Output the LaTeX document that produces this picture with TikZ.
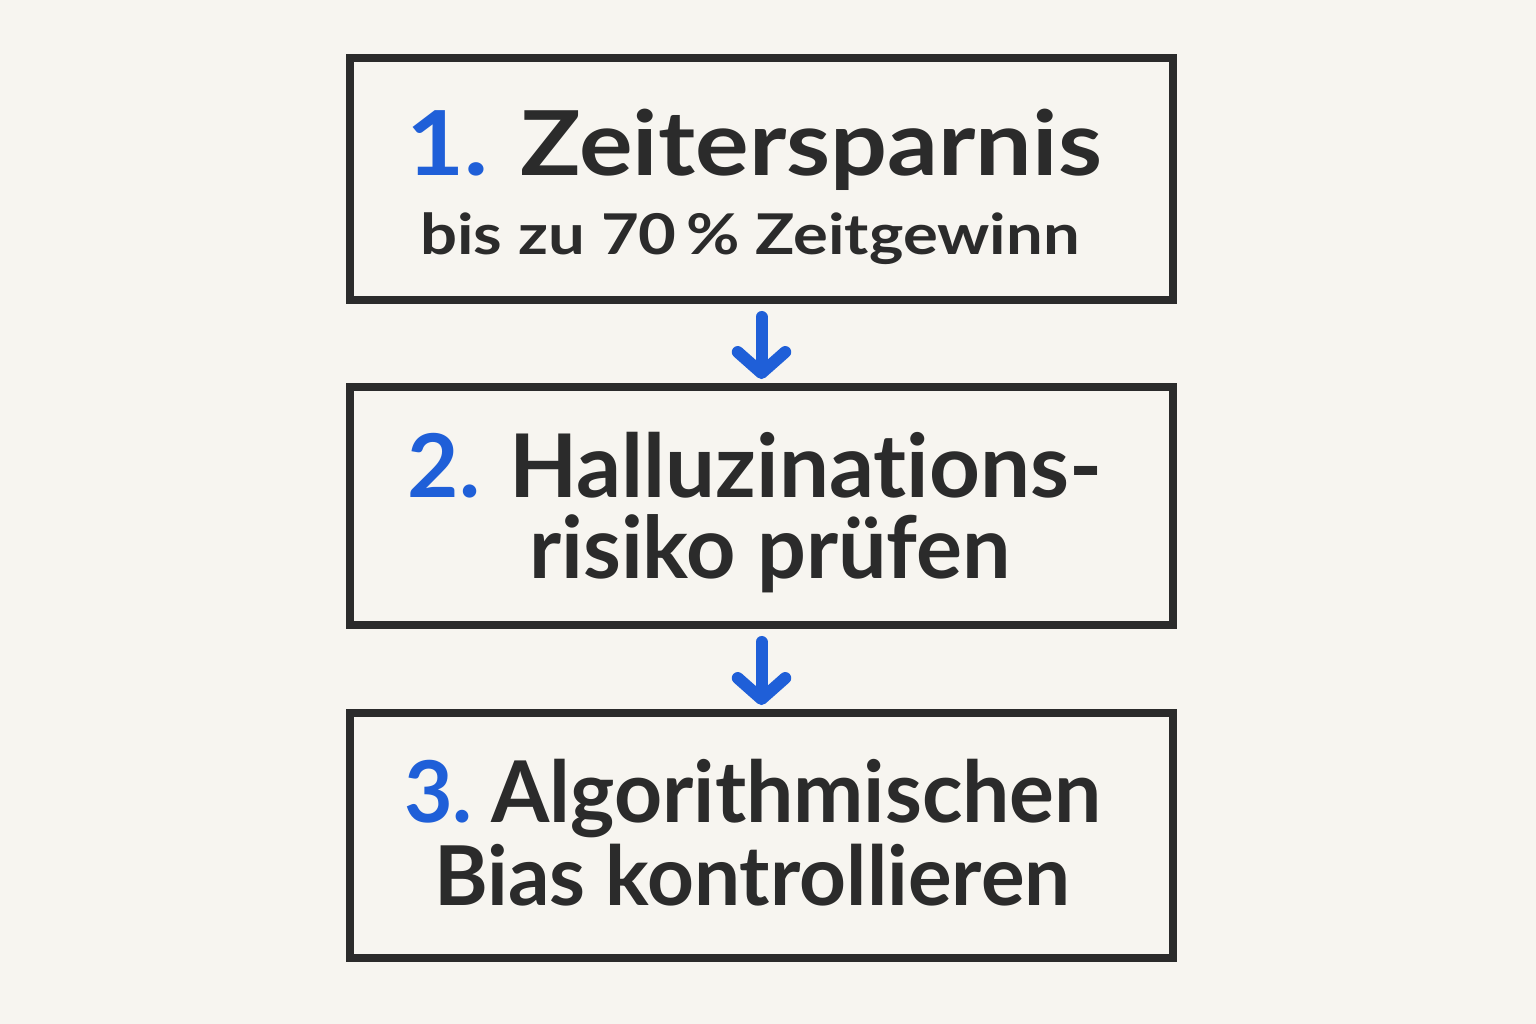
\documentclass[tikz,border=0pt]{standalone}
\usepackage{fontspec}
\setmainfont{Lato}[Ligatures=NoCommon]
\usetikzlibrary{arrows.meta}
\definecolor{paper}{HTML}{F7F5F0}
\definecolor{ink}{HTML}{2B2B2B}
\definecolor{stepblue}{HTML}{1F5FD8}
\tikzset{
  stepbox/.style={draw=ink, line width=0.16cm, rectangle, minimum width=16.46cm, inner sep=0pt},
  steptext/.style 2 args={anchor=base, text=ink, inner sep=0pt,
    font={\bfseries\fontsize{#1}{#1}\selectfont\addfontfeature{FakeStretch=#2}}},
  flow/.style={draw=stepblue, line width=0.24cm, line cap=round,
    -{Straight Barb[length=0.42cm,width=0.95cm,line cap=round,line join=round]},
    shorten <=0.26cm, shorten >=0.08cm}
}
\newcommand{\stepnum}[1]{\textcolor{stepblue}{#1}}
\begin{document}
\begin{tikzpicture}[x=0.02cm,y=-0.02cm]
		\fill[paper] (0,0) rectangle (1536,1024);
		% Kästen
		\node[stepbox, minimum height=4.84cm] (zeit) at (761.5,179) {};
		\node[stepbox, minimum height=4.76cm] (hallu) at (761.5,506) {};
		\node[stepbox, minimum height=4.90cm] (bias) at (761.5,835.5) {};
		% Texte
		\node[steptext={51}{1.12}] (zeit1) at (754,175) {\stepnum{1.} Zeitersparnis};
		\node[steptext={50}{1.01}] (hallu1) at (755,497) {\stepnum{2.} Halluzinations-};
		\node[steptext={32}{1.16}] (zeit2) at (750,255) {bis zu 70\,\% Zeitgewinn};
		\node[steptext={49}{1.0}] (hallu2) at (770,578) {risiko prüfen};
		\node[steptext={48.5}{0.985}] (bias1) at (753,822) {\stepnum{3.}\hspace{-0.1em} Algorithmischen};
		\node[steptext={47}{0.99}] (bias2) at (752.5,905) {Bias kontrollieren};
		% Pfeile
		\draw[flow] (zeit.south) -- (hallu.north);
		\draw[flow] (hallu.south) -- (bias.north);
\end{tikzpicture}
\end{document}
